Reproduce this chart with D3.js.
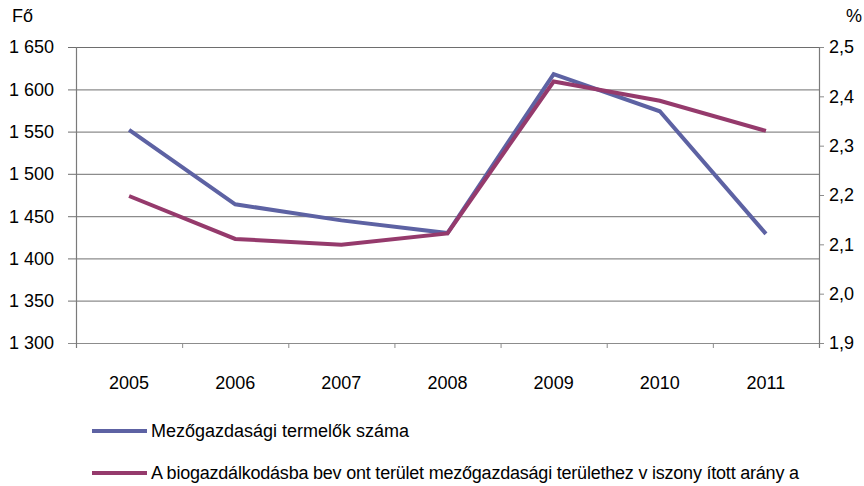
<!DOCTYPE html>
<html>
<head>
    <meta charset="utf-8">
    <script src="https://cdn.jsdelivr.net/npm/d3@7/dist/d3.min.js"></script>
    <style>
        body { margin: 0; background: #fff; }
        text { font-family: "Liberation Sans", Arial, sans-serif; fill: #000; }
    </style>
</head>
<body>
<div id="chart"></div>
<script>

    var years = ['2005', '2006', '2007', '2008', '2009', '2010', '2011'];
    var farmers = [1552, 1464, 1445, 1430, 1618, 1574, 1429];
    var bioShare = [2.198, 2.111, 2.099, 2.122, 2.430, 2.391, 2.330];
    var leftTicks = [1300, 1350, 1400, 1450, 1500, 1550, 1600, 1650];
    var rightTicks = [1.9, 2.0, 2.1, 2.2, 2.3, 2.4, 2.5];
    var seriesNames = ['Mezőgazdasági termelők száma',
        'A biogazdálkodásba bev ont terület mezőgazdasági területhez v iszony ított arány a'];

    var width = 864, height = 486;
    var plot = { left: 76, right: 819, top: 47, bottom: 343 };
    var blue = '#5d62a3', plum = '#953a6c';

    var svg = d3.select('#chart').append('svg')
        .attr('width', width)
        .attr('height', height);

    var x = d3.scaleBand().domain(years).range([plot.left, plot.right]);
    var yLeft = d3.scaleLinear().domain([1300, 1650]).range([plot.bottom, plot.top]);
    var yRight = d3.scaleLinear().domain([1.9, 2.5]).range([plot.bottom, plot.top]);

    // gridlines
    svg.append('g').selectAll('line')
        .data(leftTicks)
        .enter().append('line')
        .attr('x1', plot.left - 8).attr('x2', plot.right)
        .attr('y1', function(d) { return yLeft(d) + 0.5; })
        .attr('y2', function(d) { return yLeft(d) + 0.5; })
        .attr('stroke', function(d) { return d == 1650 ? '#6e6e6e' : '#8c8c8c'; })
        .attr('stroke-width', 1.2);

    // right ticks
    svg.append('g').selectAll('line')
        .data(rightTicks)
        .enter().append('line')
        .attr('x1', plot.right).attr('x2', plot.right + 5)
        .attr('y1', function(d) { return yRight(d) + 0.5; })
        .attr('y2', function(d) { return yRight(d) + 0.5; })
        .attr('stroke', '#8c8c8c');

    // axis lines
    svg.append('line')
        .attr('x1', plot.left + 0.5).attr('x2', plot.left + 0.5)
        .attr('y1', plot.top).attr('y2', plot.bottom + 5)
        .attr('stroke', '#7a7a7a').attr('stroke-width', 1.2);
    svg.append('line')
        .attr('x1', plot.right + 0.5).attr('x2', plot.right + 0.5)
        .attr('y1', plot.top).attr('y2', plot.bottom + 5)
        .attr('stroke', '#7a7a7a').attr('stroke-width', 1.2);

    // category ticks on bottom
    svg.append('g').selectAll('line')
        .data(years.slice(1))
        .enter().append('line')
        .attr('x1', function(d) { return x(d) + 0.5; })
        .attr('x2', function(d) { return x(d) + 0.5; })
        .attr('y1', plot.bottom).attr('y2', plot.bottom + 5)
        .attr('stroke', '#8c8c8c');

    // tick labels
    svg.append('g').selectAll('text')
        .data(leftTicks)
        .enter().append('text')
        .attr('x', 54)
        .attr('y', function(d) { return yLeft(d); })
        .attr('dy', '0.36em')
        .attr('text-anchor', 'end')
        .attr('font-size', 18)
        .text(function(d) { return d3.format(',')(d).replace(',', ' '); });

    svg.append('g').selectAll('text')
        .data(rightTicks)
        .enter().append('text')
        .attr('x', 829)
        .attr('y', function(d) { return yRight(d); })
        .attr('dy', '0.36em')
        .attr('font-size', 18)
        .text(function(d) { return d3.format('.1f')(d).replace('.', ','); });

    svg.append('g').selectAll('text')
        .data(years)
        .enter().append('text')
        .attr('x', function(d) { return x(d) + x.bandwidth() / 2; })
        .attr('y', 389)
        .attr('text-anchor', 'middle')
        .attr('font-size', 18)
        .text(function(d) { return d; });

    svg.append('text').attr('x', 12).attr('y', 22).attr('font-size', 18).text('Fő');
    svg.append('text').attr('x', 846).attr('y', 22).attr('font-size', 18).text('%');

    // lines
    var lineLeft = d3.line()
        .x(function(d, i) { return x(years[i]) + x.bandwidth() / 2; })
        .y(function(d) { return yLeft(d); });
    var lineRight = d3.line()
        .x(function(d, i) { return x(years[i]) + x.bandwidth() / 2; })
        .y(function(d) { return yRight(d); });

    svg.append('path')
        .attr('d', lineLeft(farmers))
        .attr('fill', 'none').attr('stroke', blue).attr('stroke-width', 4);
    svg.append('path')
        .attr('d', lineRight(bioShare))
        .attr('fill', 'none').attr('stroke', plum).attr('stroke-width', 4);

    // legend
    var legend = svg.append('g').selectAll('g')
        .data(seriesNames)
        .enter().append('g')
        .attr('transform', function(d, i) { return 'translate(92,' + (431 + i * 42) + ')'; });
    legend.append('line')
        .attr('x1', 0).attr('x2', 55)
        .attr('stroke', function(d, i) { return i == 0 ? blue : plum; })
        .attr('stroke-width', 4);
    legend.append('text')
        .attr('x', 59)
        .attr('dy', '0.36em')
        .attr('font-size', 18)
        .attr('textLength', function(d, i) { return i == 0 ? null : 648; })
        .text(function(d) { return d; });

</script>
</body>
</html>
